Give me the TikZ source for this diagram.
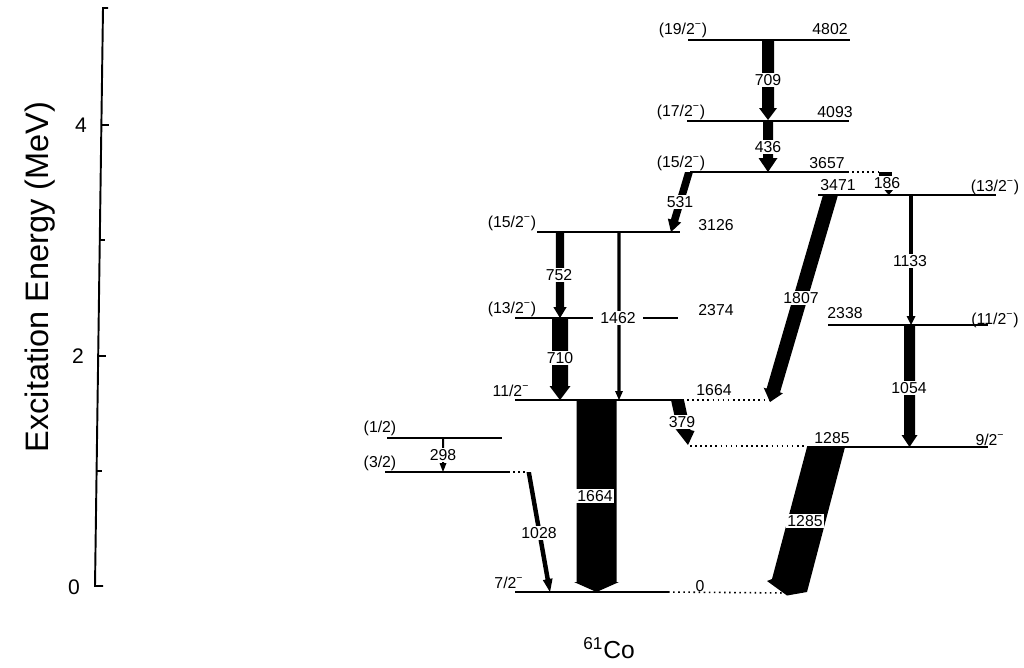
\documentclass[tikz,border=0pt]{standalone}
\usepackage{fontspec}
\setmainfont{Liberation Sans}
\begin{document}
\begin{tikzpicture}[x=0.02cm,y=-0.02cm,
  lvl/.style={line width=0.9pt},
  dotl/.style={line width=0.9pt, dotted},
  axisl/.style={line width=1.1pt},
  tl/.style={font=\fontsize{9}{10}\selectfont, inner sep=0.5pt},
  gl/.style={tl, fill=white, inner sep=1pt},
  tick/.style={font=\fontsize{12}{13}\selectfont, inner sep=0pt}]
\useasboundingbox (0,0) rectangle (1024,667);
\newcommand\varrow[6]{\fill ({#1-#4},#2) -- ({#1-#4},{#3-#6}) -- ({#1-#5},{#3-#6}) -- (#1,#3) -- ({#1+#5},{#3-#6}) -- ({#1+#4},{#3-#6}) -- ({#1+#4},#2) -- cycle;}
% axis
\draw[axisl] (108,8) -- (103,8) -- (95,586) -- (103,586);
\draw[axisl] (101.4,125) -- (109,125);
\draw[axisl] (99.8,240) -- (105,240);
\draw[axisl] (98.2,356) -- (106,356);
\draw[axisl] (96.6,471) -- (102,471);
\node[tick] (t4) at (81,125) {4};
\node[tick] (t2) at (78,356) {2};
\node[tick] (t0) at (74,587) {0};
\node[rotate=90, font=\fontsize{18.5}{20}\selectfont] (ylab) at (40,277) {Excitation Energy (MeV)};
% levels
\draw[lvl] (688,40) -- (850,40);
\draw[lvl] (687,121) -- (849,121);
\draw[lvl] (690,172) -- (847,172); \draw[dotl] (847,172) -- (879,172);
\draw[lvl] (818,195) -- (996,195);
\draw[lvl] (537,232) -- (680,232);
\draw[lvl] (515,318) -- (678,318);
\draw[lvl] (828,325) -- (988,325);
\draw[lvl] (515,400) -- (682,400); \draw[dotl] (682,400) -- (770,400);
\draw[dotl] (690,446) -- (807,446); \draw[lvl] (807,447) -- (988,447);
\draw[lvl] (387,438) -- (502,438);
\draw[lvl] (385,472) -- (508,472); \draw[dotl] (508,472) -- (527,472);
\draw[lvl] (515,592) -- (668,592); \draw[dotl] (668,592) -- (787,593);
% level labels
\node[tl] (s4802) at (683,30) {(19/2\textsuperscript{−})};
\node[tl] (e4802) at (830,29) {4802};
\node[tl] (s4093) at (681,112) {(17/2\textsuperscript{−})};
\node[tl] (e4093) at (835,112) {4093};
\node[tl] (s3657) at (681,163) {(15/2\textsuperscript{−})};
\node[tl] (e3657) at (827,163) {3657};
\node[tl] (e3471) at (838,185) {3471};
\node[tl] (s3471) at (995,187) {(13/2\textsuperscript{−})};
\node[tl] (s3126) at (512,223) {(15/2\textsuperscript{−})};
\node[tl] (e3126) at (716,225) {3126};
\node[tl] (s2374) at (512,309) {(13/2\textsuperscript{−})};
\node[tl] (e2374) at (716,310) {2374};
\node[tl] (e2338) at (845,313) {2338};
\node[tl] (s2338) at (995,320) {(11/2\textsuperscript{−})};
\node[tl] (s1664) at (511,391) {11/2\textsuperscript{−}};
\node[tl] (e1664) at (714,390) {1664};
\node[tl] (e1285) at (832,438) {1285};
\node[tl] (s1285) at (990,440) {9/2\textsuperscript{−}};
\node[tl] (s1326) at (380,428) {(1/2)};
\node[tl] (s1028) at (380,463) {(3/2)};
\node[tl] (s0) at (509,583) {7/2\textsuperscript{−}};
\node[tl] (e0) at (700,586) {0};
% vertical transitions
\varrow{768}{40}{120}{6}{9}{12}
\varrow{768}{121}{172}{5}{9.5}{14}
\varrow{560}{232}{318}{4.2}{6.7}{11}
\varrow{560}{318}{400}{8}{10.5}{14}
\varrow{619}{232}{400}{1.6}{4}{9}
\varrow{596.5}{400}{592}{20}{22.5}{10}
\varrow{911}{195}{325}{1.8}{4.5}{9}
\varrow{909.5}{325}{447}{5.5}{8}{12}
\varrow{443}{438}{472}{1}{3.5}{9}
% 186
\fill (879,172) rectangle (892,176);
\fill (884.5,190) -- (893,190) -- (888.8,195) -- cycle;
% slanted transitions
\fill (685,172) -- (693,172) -- (678.1,221.6) -- (681.2,222.5) -- (671,232) -- (667.8,218.5) -- (670.9,219.4) -- cycle;
\fill (823,195) -- (838,195) -- (780,392.4) -- (782.9,393.3) -- (770,402) -- (763.7,387.7) -- (766.6,388.6) -- cycle;
\fill (671,400) -- (684,400) -- (690.5,430) -- (694.5,431) -- (688,445) -- (675.5,429) -- (677.5,429.5) -- cycle;
\fill (526.5,472) -- (531,472) -- (549.9,578.8) -- (552.6,578.3) -- (550,592) -- (542.8,580.1) -- (545.5,579.6) -- cycle;
\fill (807,447) -- (845,447) -- (807,592) -- (787,595.5) -- (767,581) -- (772,579) -- cycle;
% transition labels
\node[gl] (g709) at (768,80) {709};
\node[gl] (g436) at (768,147) {436};
\node[gl] (g752) at (559,275) {752};
\node[gl] (g710) at (560,358) {710};
\node[gl, inner xsep=4pt] (g1462) at (618,318) {1462};
\node[gl] (g1664) at (595,496) {1664};
\node[gl] (g1133) at (910,261) {1133};
\node[gl] (g1054) at (909,388) {1054};
\node[gl] (g298) at (443,455) {298};
\node[gl] (g186) at (887,183) {186};
\node[gl] (g531) at (680,202) {531};
\node[gl] (g1807) at (801,298) {1807};
\node[gl] (g379) at (682,422) {379};
\node[gl] (g1028) at (539,533) {1028};
\node[gl] (g1285) at (805,521) {1285};
% title
\node[font=\fontsize{14}{15}\selectfont] (title) at (609,648) {\textsuperscript{61}Co};
\end{tikzpicture}
\end{document}
